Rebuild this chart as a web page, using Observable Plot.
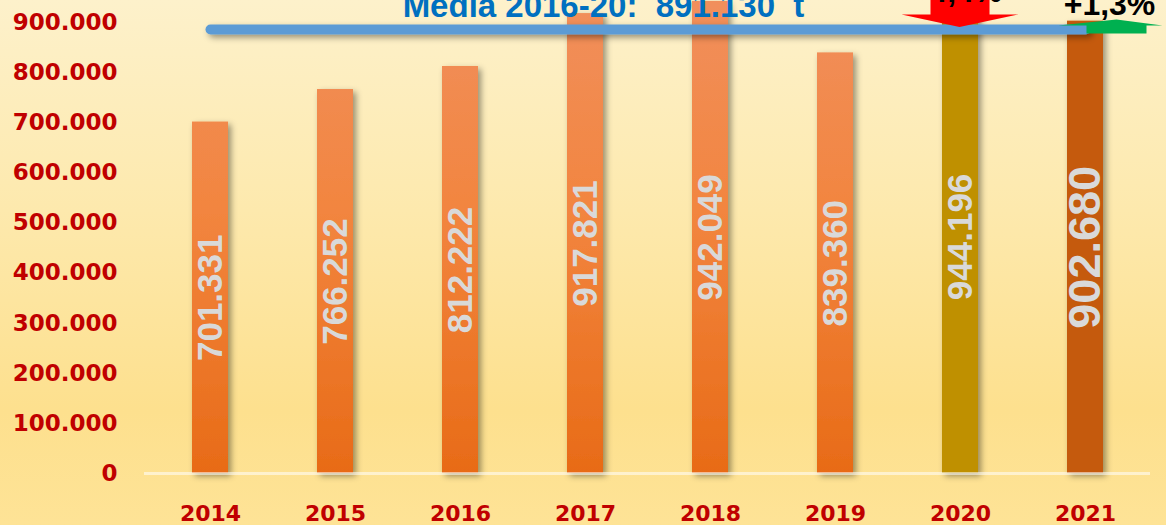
<!DOCTYPE html>
<html>
<head>
<meta charset="utf-8">
<script src="https://cdn.jsdelivr.net/npm/d3@7"></script>
<script src="https://cdn.jsdelivr.net/npm/@observablehq/plot@0.6"></script>
<style>
  html, body { margin: 0; padding: 0; background: #fdeab0; overflow: hidden; }
  #chart svg g[aria-label^="y-axis"] text { font: bold 23px "DejaVu Sans"; fill: #c00000; }
  #chart svg g[aria-label^="x-axis"] text { font: bold 22px "DejaVu Sans"; fill: #c00000; }
</style>
</head>
<body>
<div id="chart"></div>
<script>
// ---- data ----
const years = [2014, 2015, 2016, 2017, 2018, 2019, 2020, 2021];
const values = [701331, 766252, 812222, 917821, 942049, 839360, 944196, 902680];
const yTicks = [0, 100000, 200000, 300000, 400000, 500000, 600000, 700000, 800000, 900000];
const meanValue = 891130;
const meanYears = [2014, 2021];
const meanLabel = "Media 2016-20:  891.130  t";
const changeYears = [2020, 2021];
const changeLabels = ["-4,4%", "+1,3%"];

// ---- build ----
const rows = years.map((year, i) => ({year, value: values[i], label: d3.format(",")(values[i]).replace(/,/g, ".")}));
const fmt = d3.formatLocale({thousands: ".", grouping: [3], decimal: ","}).format(",");

const barFill = d => d.year === 2020 ? "#bf9000" : d.year === 2021 ? "#c55a11" : "url(#barGrad)";

const downArrow = {
  draw(ctx) {
    ctx.moveTo(-30, -40); ctx.lineTo(29, -40); ctx.lineTo(29, -12.5);
    ctx.lineTo(58, -12.5); ctx.lineTo(-1, 0); ctx.lineTo(-59, -12.5);
    ctx.lineTo(-30, -12.5); ctx.closePath();
  }
};
const upArrow = {
  draw(ctx) {
    ctx.moveTo(-30, 6.5); ctx.lineTo(30, 6.5); ctx.lineTo(30, -1.5);
    ctx.lineTo(46, -1.5); ctx.lineTo(0, -7.5); ctx.lineTo(-58, -1.5);
    ctx.lineTo(-30, -1.5); ctx.closePath();
  }
};

const meanRows = meanYears.map(year => ({year, value: meanValue}));

const svg = Plot.plot({
  width: 1166,
  height: 525,
  marginLeft: 144,
  marginRight: 16,
  marginTop: 0,
  marginBottom: 52,
  style: {
    background: "linear-gradient(to bottom, #fdf1cb 0%, #fde9ad 40%, #fde08e 78%, #fee396 100%)",
    overflow: "hidden"
  },
  x: {type: "band", domain: years, paddingInner: 0.7136, paddingOuter: 0.358, tickSize: 0, tickPadding: 32, tickFormat: d => String(d), label: null},
  y: {domain: [0, 943900], ticks: yTicks, tickFormat: fmt, tickSize: 0, tickPadding: 27, label: null},
  color: {type: "identity"},
  marks: [
    Plot.barY(rows, {x: "year", y: "value", fill: barFill}),
    Plot.ruleY([0], {stroke: "#ffffff", strokeOpacity: 0.55, strokeWidth: 3}),
    Plot.text(rows, {
      x: "year", y: d => d.value / 2, text: "label", rotate: -90,
      fill: "#d9d9d9", fontFamily: "Liberation Sans", fontWeight: "bold",
      fontSize: d => d.year === 2021 ? 45 : 35
    }),
    Plot.line(meanRows, {x: "year", y: "value", dy: 2.5, stroke: "#5b9bd5", strokeWidth: 10, strokeLinecap: "round"}),
    Plot.text([meanLabel], {
      x: () => 2017, y: () => meanValue, text: d => d, dx: 18, dy: -9.5, lineAnchor: "bottom",
      fill: "#0070c0", fontFamily: "Liberation Sans", fontWeight: "bold", fontSize: 33
    }),
    Plot.dot([changeYears[0]], {x: d => d, y: () => meanValue, symbol: downArrow, r: 10, fill: "#ff0000", stroke: "none"}),
    Plot.dot([changeYears[1]], {x: d => d, y: () => meanValue, symbol: upArrow, r: 10, dx: 31, fill: "#00b050", stroke: "none"}),
    Plot.text([0], {
      x: () => changeYears[0], y: () => meanValue, text: () => changeLabels[0], dy: -24.5, lineAnchor: "bottom",
      fill: "#000000", fontFamily: "Liberation Sans", fontWeight: "bold", fontSize: 32
    }),
    Plot.text([0], {
      x: () => changeYears[1], y: () => meanValue, text: () => changeLabels[1], dx: 24, dy: -11.5, lineAnchor: "bottom",
      fill: "#000000", fontFamily: "Liberation Sans", fontWeight: "bold", fontSize: 32
    })
  ]
});

const root = d3.select(svg);
const defs = root.insert("defs", ":first-child");
const grad = defs.append("linearGradient").attr("id", "barGrad")
  .attr("gradientUnits", "userSpaceOnUse").attr("x1", 0).attr("x2", 0).attr("y1", 0).attr("y2", 473);
grad.append("stop").attr("offset", "0%").attr("stop-color", "#f18f5c");
grad.append("stop").attr("offset", "45%").attr("stop-color", "#f2853f");
grad.append("stop").attr("offset", "100%").attr("stop-color", "#e86b17");
const f = defs.append("filter").attr("id", "shadow")
  .attr("filterUnits", "userSpaceOnUse").attr("x", 0).attr("y", -50).attr("width", 1166).attr("height", 600);
f.append("feDropShadow").attr("dx", 3).attr("dy", 3).attr("stdDeviation", 3)
  .attr("flood-color", "#000").attr("flood-opacity", 0.4);
root.selectAll('g[aria-label="bar"]').attr("filter", "url(#shadow)");
root.selectAll('g[aria-label="line"]').attr("filter", "url(#shadow)");

document.getElementById("chart").appendChild(svg);
</script>
</body>
</html>
